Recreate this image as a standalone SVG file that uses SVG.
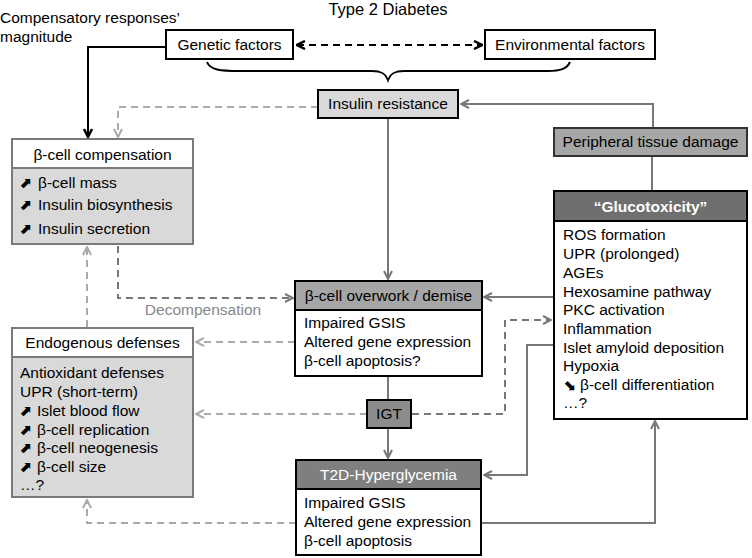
<svg xmlns="http://www.w3.org/2000/svg" width="752" height="558" viewBox="0 0 752 558">
<style>
text{font-family:"Liberation Sans",Arial,sans-serif;font-size:15.5px;fill:#000}
.c{text-anchor:middle}
.w{fill:#fff}
.g{fill:#888}
.ar{font-family:"DejaVu Sans",sans-serif;font-size:15px;font-weight:bold}
.bx{stroke:#000;stroke-width:2}
.gb{stroke:#7a7a7a;stroke-width:2}
.k{fill:none;stroke:#000;stroke-width:2}
.d{fill:none;stroke:#777;stroke-width:2}
.l{fill:none;stroke:#aaa;stroke-width:2}
.dash{stroke-dasharray:7,5}
</style>
<defs>
<marker id="md" viewBox="0 0 10 10" refX="9" refY="5" markerWidth="10" markerHeight="10" orient="auto-start-reverse" markerUnits="userSpaceOnUse"><path d="M1,1 L9,5 L1,9" fill="none" stroke="#777" stroke-width="2"/></marker>
<marker id="ml" viewBox="0 0 10 10" refX="9" refY="5" markerWidth="10" markerHeight="10" orient="auto-start-reverse" markerUnits="userSpaceOnUse"><path d="M1,1 L9,5 L1,9" fill="none" stroke="#aaa" stroke-width="2"/></marker>
<marker id="mkb" viewBox="0 0 10 10" refX="9" refY="5" markerWidth="10" markerHeight="10" orient="auto-start-reverse" markerUnits="userSpaceOnUse"><path d="M1,1 L9,5 L1,9" fill="none" stroke="#000" stroke-width="2.5"/></marker>
</defs>

<text x="388" y="15" class="c" style="font-size:16.5px">Type 2 Diabetes</text>
<text x="0" y="23">Compensatory responses’</text>
<text x="0" y="42">magnitude</text>

<g id="connectors">
<path class="k dash" d="M297,45 H482" marker-start="url(#mkb)" marker-end="url(#mkb)"/>
<path class="k" d="M207,62 C210,70 220,71 240,71 H372 C382,71 386,74 388,80 C390,74 394,71 404,71 H548 C560,71 567,69 570,62" stroke-width="1.6"/>
<path class="k" d="M166,47 H88 V137" marker-end="url(#mkb)"/>
<path class="l dash" d="M318,107 H118 V137" marker-end="url(#ml)"/>
<path class="d" d="M653,128 V104 H461" marker-end="url(#md)"/>
<path class="d" d="M652,156 V191"/>
<path class="d" d="M388,118 V279" marker-end="url(#md)"/>
<path class="d" d="M554,297 H484" marker-end="url(#md)"/>
<path class="d dash" d="M118,246 V298 H293" marker-end="url(#md)"/>
<path class="l dash" d="M87,327 V247" marker-end="url(#ml)"/>
<path class="l dash" d="M295,342 H196" marker-end="url(#ml)"/>
<path class="l dash" d="M367,414 H196" marker-end="url(#ml)"/>
<path class="d" d="M388,376 V400"/>
<path class="d" d="M388,428 V458" marker-end="url(#md)"/>
<path class="d dash" d="M412,414 H505 V320 H551" marker-end="url(#md)"/>
<path class="d" d="M554,345 H527 V475 H484" marker-end="url(#md)"/>
<path class="d" d="M482,523 H655 V421" marker-end="url(#md)"/>
<path class="l dash" d="M296,523 H87 V500" marker-end="url(#ml)"/>
<text x="203" y="315" class="c g">Decompensation</text>
</g>

<g id="genetic">
<rect x="166" y="30" width="127" height="29" fill="#fff" class="bx"/>
<text x="229.5" y="50" class="c">Genetic factors</text>
</g>
<g id="environmental">
<rect x="485" y="30" width="170" height="29" fill="#fff" class="bx"/>
<text x="570" y="50" class="c">Environmental factors</text>
</g>
<g id="insulin-resistance">
<rect x="318" y="90" width="140" height="28" fill="#d9d9d9" class="bx"/>
<text x="388" y="109" class="c">Insulin resistance</text>
</g>
<g id="peripheral">
<rect x="554" y="128" width="193" height="28" fill="#a6a6a6" stroke="#333" stroke-width="2"/>
<text x="650.5" y="147" class="c">Peripheral tissue damage</text>
</g>

<g id="beta-compensation">
<rect x="12" y="139" width="181" height="105" fill="#d9d9d9" class="gb"/>
<rect x="12" y="139" width="181" height="29" fill="#fff" class="gb"/>
<text x="102.5" y="160" class="c">β-cell compensation</text>
<text x="19" y="188" class="ar">⬈</text><text x="38" y="188">β-cell mass</text>
<text x="19" y="210" class="ar">⬈</text><text x="38" y="210">Insulin biosynthesis</text>
<text x="19" y="234" class="ar">⬈</text><text x="38" y="234">Insulin secretion</text>
</g>

<g id="endogenous">
<rect x="12" y="328" width="181" height="169" fill="#d9d9d9" class="gb"/>
<rect x="12" y="328" width="181" height="29" fill="#fff" class="gb"/>
<text x="102.5" y="348" class="c">Endogenous defenses</text>
<text x="20" y="378">Antioxidant defenses</text>
<text x="20" y="397">UPR (short-term)</text>
<text x="19" y="416" class="ar">⬈</text><text x="37" y="416">Islet blood flow</text>
<text x="19" y="435" class="ar">⬈</text><text x="37" y="435">β-cell replication</text>
<text x="19" y="453" class="ar">⬈</text><text x="37" y="453">β-cell neogenesis</text>
<text x="19" y="472" class="ar">⬈</text><text x="37" y="472">β-cell size</text>
<text x="20" y="490">…?</text>
</g>

<g id="overwork">
<rect x="295" y="281" width="187" height="95" fill="#fff" class="bx"/>
<rect x="295" y="281" width="187" height="29" fill="#a6a6a6" class="bx"/>
<text x="388.5" y="301" class="c">β-cell overwork / demise</text>
<text x="304" y="328">Impaired GSIS</text>
<text x="304" y="347">Altered gene expression</text>
<text x="304" y="366">β-cell apoptosis?</text>
</g>

<g id="igt">
<rect x="367" y="400" width="44" height="28" fill="#8c8c8c" class="bx"/>
<text x="389" y="419" class="c">IGT</text>
</g>

<g id="t2d">
<rect x="296" y="460" width="185" height="95" fill="#fff" class="bx"/>
<rect x="296" y="460" width="185" height="29" fill="#7f7f7f" class="bx"/>
<text x="388.5" y="480" class="c w">T2D-Hyperglycemia</text>
<text x="304" y="508">Impaired GSIS</text>
<text x="304" y="527">Altered gene expression</text>
<text x="304" y="546">β-cell apoptosis</text>
</g>

<g id="glucotoxicity">
<rect x="554" y="191" width="193" height="228" fill="#fff" class="bx"/>
<rect x="554" y="191" width="193" height="30" fill="#6f6f6f" class="bx"/>
<text x="650.5" y="212" class="c w" style="font-weight:bold">“Glucotoxicity”</text>
<text x="563" y="240">ROS formation</text>
<text x="563" y="259">UPR (prolonged)</text>
<text x="563" y="278">AGEs</text>
<text x="563" y="297">Hexosamine pathway</text>
<text x="563" y="315">PKC activation</text>
<text x="563" y="334">Inflammation</text>
<text x="563" y="353">Islet amyloid deposition</text>
<text x="563" y="371">Hypoxia</text>
<text x="563" y="390" class="ar">⬊</text><text x="580" y="390">β-cell differentiation</text>
<text x="563" y="408">…?</text>
</g>
</svg>
